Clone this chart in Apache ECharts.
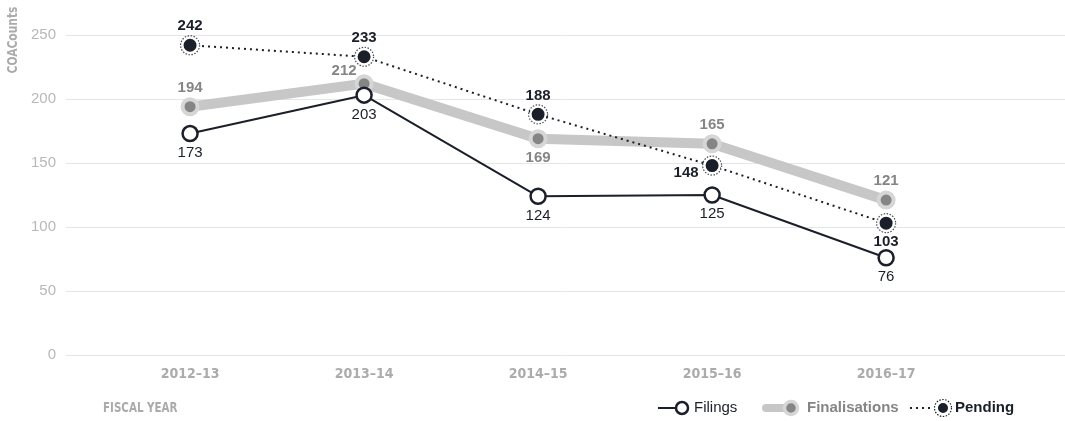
<!DOCTYPE html>
<html><head><meta charset="utf-8">
<script src="https://cdn.jsdelivr.net/npm/echarts@6/dist/echarts.min.js"></script>
<style>html,body{margin:0;padding:0;background:#fff}#c{width:1065px;height:421px}</style>
</head><body><div id="c"></div>
<script>
const categories = ['2012–13','2013–14','2014–15','2015–16','2016–17'];
const filings = [173, 203, 124, 125, 76];
const finalisations = [194, 212, 169, 165, 121];
const pending = [242, 233, 188, 148, 103];
const yTicks = [0, 50, 100, 150, 200, 250];

const finalLabelPos = ['top', 'top', 'bottom', 'top', 'top'];
const pendingLabelPos = ['top', 'top', 'top', 'left', 'bottom'];

const DARK = '#1b1f29';
const GREY = '#858585';
const BAND = '#c6c7c6';
const AXIS = '#ababab';
const NUMFONT = '"Liberation Sans", Arial, sans-serif';
const CONDFONT = '"Liberation Sans Narrow", "DejaVu Sans Condensed", sans-serif';

const xy = arr => arr.map((v, i) => [i, v]);

const chart = echarts.init(document.getElementById('c'), null, {renderer: 'canvas'});
chart.setOption({
  animation: false,
  grid: {left: 66, right: 0, top: 35, bottom: 66},
  xAxis: {
    type: 'value', min: -0.713, max: 5.028,
    axisLine: {show: false}, axisTick: {show: false}, splitLine: {show: false},
    axisLabel: {
      customValues: categories.map((c, i) => i),
      formatter: v => categories[Math.round(v)],
      color: AXIS, fontFamily: CONDFONT, fontWeight: 'bold', fontSize: 14, margin: 12
    }
  },
  yAxis: {
    type: 'value', min: yTicks[0], max: yTicks[yTicks.length - 1], interval: 50,
    axisLine: {show: false}, axisTick: {show: false},
    splitLine: {lineStyle: {color: '#e6e6e6', width: 1}},
    axisLabel: {color: '#b8b8b8', fontFamily: NUMFONT, fontSize: 15, margin: 10}
  },
  series: [
    {
      name: 'Finalisations', type: 'line', z: 2,
      data: xy(finalisations).map((d, i) => ({
        value: d,
        label: {position: finalLabelPos[i], offset: i === 1 ? [-20, 6] : [0, 0]}
      })),
      lineStyle: {color: BAND, width: 10},
      symbol: 'circle', symbolSize: 15,
      itemStyle: {color: GREY, borderColor: '#d6d6d6', borderWidth: 4},
      label: {show: true, color: GREY, fontWeight: 'bold', fontFamily: NUMFONT, fontSize: 15, distance: 2,
        formatter: p => p.value[1]}
    },
    {
      name: 'Pending', type: 'line', z: 4,
      data: xy(pending).map((d, i) => ({
        value: d,
        label: pendingLabelPos[i] === 'left'
          ? {position: 'left', distance: 5, offset: [0, 7]}
          : {position: pendingLabelPos[i], distance: 3}
      })),
      lineStyle: {color: DARK, width: 2, type: [2, 4]},
      symbol: 'circle', symbolSize: 15,
      itemStyle: {color: DARK, borderColor: '#fff', borderWidth: 2},
      label: {show: true, color: DARK, fontWeight: 'bold', fontFamily: NUMFONT, fontSize: 15,
        formatter: p => p.value[1]}
    },
    {
      name: 'PendingRing', type: 'scatter', z: 5, silent: true,
      data: xy(pending), symbol: 'circle', symbolSize: 19,
      itemStyle: {color: 'rgba(0,0,0,0)', borderColor: DARK, borderWidth: 1.2, borderType: [1.5, 1.5]}
    },
    {
      name: 'Filings', type: 'line', z: 6,
      data: xy(filings),
      lineStyle: {color: DARK, width: 2},
      symbol: 'circle', symbolSize: 15,
      itemStyle: {color: '#fff', borderColor: DARK, borderWidth: 2.5},
      label: {show: true, position: 'bottom', distance: 3, color: DARK, fontFamily: NUMFONT, fontSize: 15,
        formatter: p => p.value[1]}
    }
  ],
  graphic: [
    {type: 'text', x: 13, y: 40, rotation: Math.PI / 2, scaleX: 0.85, scaleY: 1,
      style: {text: 'COACounts', fill: AXIS, font: 'bold 14px ' + CONDFONT, textAlign: 'center', textVerticalAlign: 'middle'}},
    {type: 'text', x: 103, y: 408, scaleX: 0.82,
      style: {text: 'FISCAL YEAR', fill: AXIS, font: 'bold 14px ' + CONDFONT, textVerticalAlign: 'middle'}},
    // legend: Filings
    {type: 'line', shape: {x1: 658, y1: 408, x2: 676, y2: 408}, style: {stroke: DARK, lineWidth: 2}},
    {type: 'circle', shape: {cx: 682, cy: 408, r: 6}, style: {fill: '#fff', stroke: DARK, lineWidth: 2.5}},
    {type: 'text', x: 694, y: 408, style: {text: 'Filings', fill: DARK, font: '15px ' + NUMFONT, textVerticalAlign: 'middle'}},
    // legend: Finalisations
    {type: 'line', shape: {x1: 766, y1: 408, x2: 788, y2: 408}, style: {stroke: BAND, lineWidth: 8, lineCap: 'round'}},
    {type: 'circle', shape: {cx: 791, cy: 408, r: 6.5}, style: {fill: GREY, stroke: '#d6d6d6', lineWidth: 3.5}},
    {type: 'text', x: 807, y: 408, style: {text: 'Finalisations', fill: GREY, font: 'bold 15px ' + NUMFONT, textVerticalAlign: 'middle'}},
    // legend: Pending
    {type: 'line', shape: {x1: 910, y1: 408, x2: 932, y2: 408}, style: {stroke: DARK, lineWidth: 2, lineDash: [2, 4]}},
    {type: 'circle', shape: {cx: 943, cy: 408, r: 6}, style: {fill: DARK, stroke: '#fff', lineWidth: 2}},
    {type: 'circle', shape: {cx: 943, cy: 408, r: 8.5}, style: {fill: 'none', stroke: DARK, lineWidth: 1.2, lineDash: [1.5, 1.5]}},
    {type: 'text', x: 955, y: 408, style: {text: 'Pending', fill: DARK, font: 'bold 15px ' + NUMFONT, textVerticalAlign: 'middle'}}
  ]
});
</script></body></html>
